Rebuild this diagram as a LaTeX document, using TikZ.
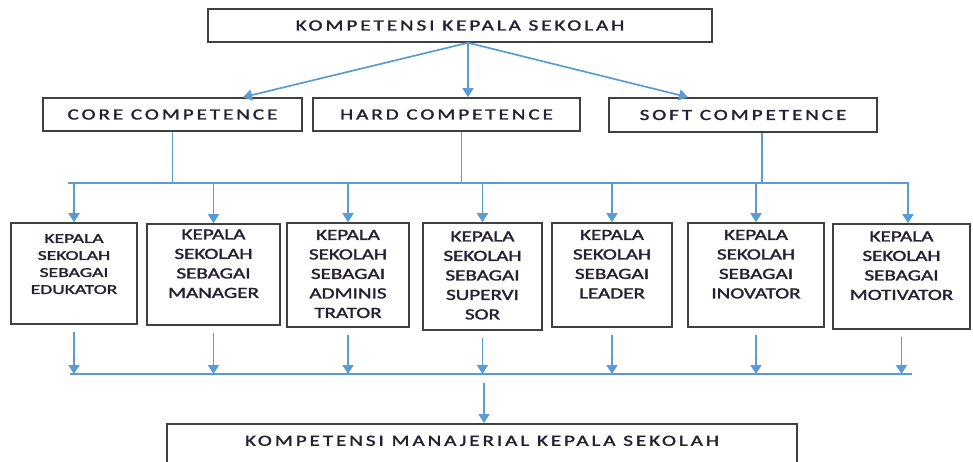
\documentclass[tikz,border=0pt]{standalone}
\usepackage{fontspec}
\usepackage{graphicx}
\newfontfamily\headfont[LetterSpace=14,FakeBold=1.5]{Carlito}
\newfontfamily\boxfont[FakeBold=1.5]{Carlito}
\newcommand\wide[1]{\scalebox{1.36}[1]{#1}}
\newcommand\rolelines[2][1.36]{\scalebox{#1}[1]{\begin{tabular}{@{}c@{}}#2\end{tabular}}}
\usetikzlibrary{arrows.meta,positioning}
\definecolor{lineblue}{HTML}{5B9BD5}
\definecolor{boxgray}{HTML}{404040}
\definecolor{inkdark}{HTML}{262033}
\tikzset{
	head/.style={rectangle, draw=boxgray, line width=1.6pt, inner sep=0pt, text=inkdark,
			font=\headfont\fontsize{15.5}{18}\selectfont},
	kbox/.style={rectangle, draw=boxgray, line width=1.6pt, inner sep=0pt, text=inkdark,
			font=\boxfont\fontsize{15.5}{19.5}\selectfont},
	link/.style={draw=lineblue, line width=1.7pt},
	arr/.style={link, -{Triangle[length=9pt,width=11pt]}}
}

\begin{document}
\begin{tikzpicture}[x=1pt, y=-1pt]
    \useasboundingbox (0,0) rectangle (973,461);
    % top and the three competences
    \node (top) [head, minimum width=504pt, minimum height=33pt] at (460,25.5) {\wide{KOMPETENSI KEPALA SEKOLAH}};
    \node (core) [head, minimum width=259pt, minimum height=33pt] at (172.5,114.5) {\wide{CORE COMPETENCE}};
    \node (hard) [head, minimum width=267pt, minimum height=33pt] at (446.5,114.5) {\wide{HARD COMPETENCE}};
    \node (soft) [head, minimum width=268pt, minimum height=34pt] at (743,115) {\wide{SOFT COMPETENCE}};
    % the seven roles
    \node (b1) [kbox, font=\boxfont\fontsize{13.5}{17}\selectfont, minimum width=126pt, minimum height=101pt] at (74,273.5) {\rolelines[1.45]{KEPALA\\SEKOLAH\\SEBAGAI\\EDUKATOR\\~}};
    \node (b2) [kbox, minimum width=133pt, minimum height=101pt] at (213.5,274.5) {\rolelines{KEPALA\\SEKOLAH\\SEBAGAI\\MANAGER\\~}};
    \node (b3) [kbox, minimum width=122pt, minimum height=104pt] at (348,275) {\rolelines{KEPALA\\SEKOLAH\\SEBAGAI\\ADMINIS\\TRATOR}};
    \node (b4) [kbox, minimum width=119pt, minimum height=107pt] at (482.5,276.5) {\rolelines{KEPALA\\SEKOLAH\\SEBAGAI\\SUPERVI\\SOR}};
    \node (b5) [kbox, minimum width=120pt, minimum height=104pt] at (612,275) {\rolelines{KEPALA\\SEKOLAH\\SEBAGAI\\LEADER\\~}};
    \node (b6) [kbox, minimum width=136pt, minimum height=104pt] at (756,275) {\rolelines{KEPALA\\SEKOLAH\\SEBAGAI\\INOVATOR\\~}};
    \node (b7) [kbox, minimum width=137pt, minimum height=105pt] at (901.5,276.5) {\rolelines{KEPALA\\SEKOLAH\\SEBAGAI\\MOTIVATOR\\~}};
    % result
    \node (bottom) [head, anchor=north, minimum width=630pt, text height=22pt, text depth=28pt] at (482,423) {\wide{KOMPETENSI MANAJERIAL KEPALA SEKOLAH}};

    % top -> competences
    \coordinate (fork) at ([xshift=8pt]top.south);
    \draw [arr] (fork) -- ([xshift=70.5pt]core.north);
    \draw [arr] (fork) -- ([xshift=21.5pt]hard.north);
    \draw [arr] (fork) -- ([xshift=-55pt]soft.north);

    % competences -> roles
    \coordinate (busL) at (68,183);
    \coordinate (busR) at (908,183);
    \coordinate (coreDrop) at (core.south);
    \coordinate (hardDrop) at ([xshift=15pt]hard.south);
    \coordinate (softDrop) at ([xshift=19pt]soft.south);
    \foreach \d in {coreDrop,hardDrop,softDrop}
        \draw [link] (\d) -- (\d |- busL);
    \draw [arr] (busL) -- (busR) -- (busR |- b7.north);
    \foreach \n in {b1,b2,b3,b4,b5,b6}
        \draw [arr] (\n.north |- busL) -- (\n.north);

    % roles -> result
    \coordinate (lowL) at (70,374);
    \coordinate (lowR) at (912,374);
    \draw [link] (lowL) -- (lowR);
    \foreach \n in {b1,b2,b3,b4,b5,b6,b7}
        \draw [arr] ([yshift=-7pt]\n.south) -- (\n.south |- lowL);
    \coordinate (join) at (484,383);
    \draw [arr] (join) -- (join |- bottom.north);
\end{tikzpicture}
\end{document}
